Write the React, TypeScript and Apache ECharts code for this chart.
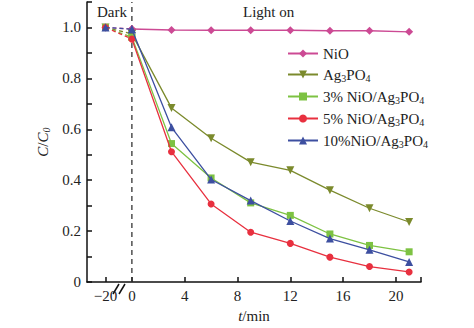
import React, { useEffect, useRef } from "react";
import * as echarts from "echarts";

// display position -2 represents t = -20 min (broken axis)
const darkX = [-2, 0];
const lightX = [0, 3, 6, 9, 12, 15, 18, 21];

const names = ["NiO", "Ag3PO4", "3% NiO/Ag3PO4", "5% NiO/Ag3PO4", "10%NiO/Ag3PO4"];
const darkNiO = [1.0, 0.994];
const darkAg = [1.0, 0.975];
const dark3 = [1.0, 0.962];
const dark5 = [1.0, 0.955];
const dark10 = [1.0, 0.993];

const lightNiO = [0.994, 0.99, 0.989, 0.989, 0.989, 0.987, 0.987, 0.983];
const lightAg = [0.975, 0.684, 0.565, 0.471, 0.439, 0.361, 0.29, 0.236];
const light3 = [0.962, 0.544, 0.409, 0.311, 0.262, 0.189, 0.144, 0.119];
const light5 = [0.955, 0.512, 0.307, 0.196, 0.152, 0.098, 0.061, 0.04];
const light10 = [0.993, 0.608, 0.403, 0.32, 0.24, 0.171, 0.127, 0.079];

const dividerLine = [[0, 0], [0, 1.1]];

const xTickValues = [-2, 0, 4, 8, 12, 16, 20];
const yLabelValues = [0, 0.2, 0.4, 0.6, 0.8, 1.0];
const yTickValues = [0, 0.1, 0.2, 0.3, 0.4, 0.5, 0.6, 0.7, 0.8, 0.9, 1.0, 1.1];

const colors = ["#cc4a94", "#7b8a2c", "#7dc242", "#e8303f", "#3d4fa0"];
const symbols = ["diamond", "path://M0,0 L10,0 L5,9 Z", "rect", "circle", "triangle"];
const symbolSizes = [8, 8, 7, 7, 8];

const FONT = "'Liberation Serif', 'Times New Roman', serif";

const zip = (xs: number[], ys: number[]) => xs.map((x, i) => [x, ys[i]]);

export default function App() {
  const ref = useRef<HTMLDivElement>(null);
  useEffect(() => {
    if (!ref.current) return;
    const chart = echarts.init(ref.current, undefined, { renderer: "svg" });
    const darks = [darkNiO, darkAg, dark3, dark5, dark10];
    const lights = [lightNiO, lightAg, light3, light5, light10];
    const series: any[] = [
      {
        name: "divider",
        type: "line",
        data: dividerLine,
        symbol: "none",
        silent: true,
        lineStyle: { color: "#333", width: 1.3, type: [5, 4] },
        z: 1,
      },
    ];
    names.forEach((n, i) => {
      series.push({
        name: n + "_dark",
        type: "line",
        data: zip(darkX, darks[i]),
        symbol: symbols[i],
        symbolSize: symbolSizes[i],
        showSymbol: true,
        itemStyle: { color: colors[i] },
        lineStyle: { color: colors[i], width: 1.3, type: [4, 3] },
        z: 2 + i,
      });
    });
    names.forEach((n, i) => {
      series.push({
        name: n,
        type: "line",
        data: zip(lightX, lights[i]),
        symbol: symbols[i],
        symbolSize: symbolSizes[i],
        itemStyle: { color: colors[i] },
        lineStyle: { color: colors[i], width: 1.3 },
        z: 3 + i,
      });
    });

    const legendFmt = (n: string) => n.replace("Ag3PO4", "Ag{sub|3}PO{sub|4}");

    chart.setOption({
      animation: false,
      textStyle: { fontFamily: FONT },
      grid: { left: 87, right: 53, top: 2, bottom: 39 },
      legend: {
        data: names,
        orient: "vertical",
        left: 282,
        top: 41,
        itemGap: 6,
        itemWidth: 30,
        itemHeight: 10,
        formatter: legendFmt,
        textStyle: {
          fontFamily: FONT,
          fontSize: 15,
          color: "#222",
          rich: {
            sub: { fontFamily: FONT, fontSize: 10, color: "#222", padding: [7, 0, 0, 0] },
          },
        },
      },
      xAxis: {
        type: "value",
        min: -3.4,
        max: 21.9,
        splitLine: { show: false },
        axisLine: { onZero: false, lineStyle: { color: "#111", width: 1.5 } },
        axisTick: {
          inside: true,
          length: 5,
          customValues: [...xTickValues, 21.9],
          lineStyle: { color: "#111", width: 1.5 },
        },
        axisLabel: {
          customValues: xTickValues,
          formatter: (v: number) => (v === -2 ? "\u221220" : String(v)),
          fontFamily: FONT,
          fontSize: 15,
          color: "#222",
          margin: 6,
        },
        name: "{i|t}/min",
        nameLocation: "middle",
        nameGap: 22,
        nameTextStyle: {
          fontFamily: FONT,
          fontSize: 15,
          color: "#222",
          rich: { i: { fontFamily: FONT, fontSize: 15, fontStyle: "italic", color: "#222" } },
        },
      },
      yAxis: {
        type: "value",
        min: 0,
        max: 1.1,
        splitLine: { show: false },
        axisLine: { onZero: false, lineStyle: { color: "#111", width: 1.5 } },
        axisTick: {
          inside: true,
          length: 5,
          customValues: yTickValues,
          lineStyle: { color: "#111", width: 1.5 },
        },
        axisLabel: {
          customValues: yLabelValues,
          formatter: (v: number) => (v === 0 ? "0" : v.toFixed(1)),
          fontFamily: FONT,
          fontSize: 15,
          color: "#222",
          margin: 6,
        },
        name: "{i|C}/{i|C}{s|0}",
        nameLocation: "middle",
        nameRotate: 90,
        nameGap: 36,
        nameTextStyle: {
          fontFamily: FONT,
          fontSize: 15,
          color: "#222",
          rich: {
            i: { fontFamily: FONT, fontSize: 15, fontStyle: "italic", color: "#222" },
            s: { fontFamily: FONT, fontSize: 10, fontStyle: "italic", color: "#222", padding: [7, 0, 0, 0] },
          },
        },
      },
      graphic: [
        { type: "rect", shape: { x: 116, y: 286, width: 8, height: 6 }, style: { fill: "#fff" }, z: 100 },
        { type: "line", shape: { x1: 113, y1: 294, x2: 119, y2: 284 }, style: { stroke: "#111", lineWidth: 1.5 }, z: 101 },
        { type: "line", shape: { x1: 119, y1: 294, x2: 125, y2: 284 }, style: { stroke: "#111", lineWidth: 1.5 }, z: 101 },
        { type: "text", left: 97, top: 4, style: { text: "Dark", fontFamily: FONT, fontSize: 15, fill: "#222" }, z: 101 },
        { type: "text", left: 243, top: 4, style: { text: "Light on", fontFamily: FONT, fontSize: 15, fill: "#222" }, z: 101 },
      ],
      series,
    });
    return () => chart.dispose();
  }, []);
  return <div ref={ref} style={{ width: 474, height: 328, position: "absolute", left: 0, top: 0, background: "#fff" }} />;
}
